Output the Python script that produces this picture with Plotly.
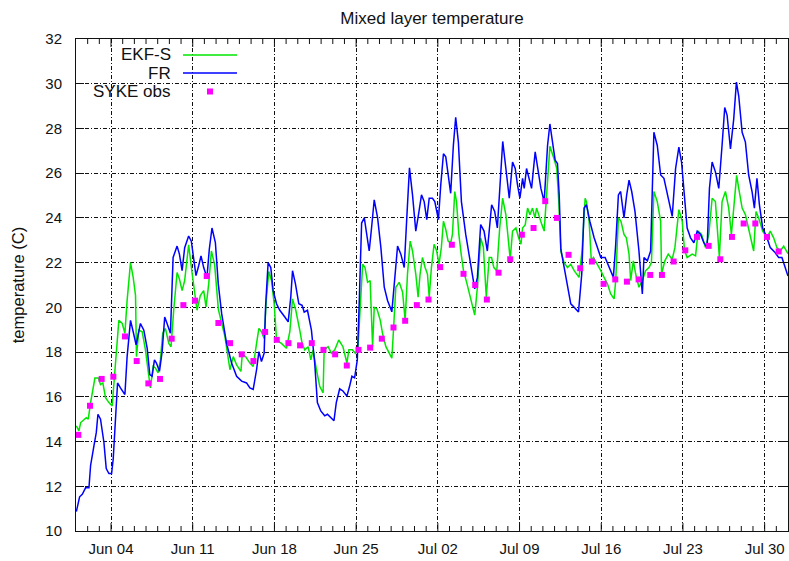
import pandas as pd
import plotly.graph_objects as go

# Time axis: days counted from 1 June (fractional days)
start_date = "2010-06-01"

fr_days = [0.03, 0.31, 0.54, 0.82, 1.11, 1.25, 1.54, 1.74, 1.88, 2.1, 2.39, 2.59, 2.82, 3.05, 3.19, 3.39,
           3.56, 3.81, 4.19, 4.38, 4.67, 4.9, 5.15, 5.52, 5.81, 6.1, 6.32, 6.52, 6.72, 6.89, 7.15, 7.38,
           7.6, 7.8, 8.09, 8.32, 8.66, 8.86, 9.09, 9.31, 9.65, 9.88, 10.08, 10.28, 10.51, 10.71, 10.94,
           11.22, 11.42, 11.65, 11.94, 12.19, 12.48, 12.9, 13.33, 13.76, 14.19, 14.61, 14.9, 15.18, 15.47,
           15.67, 15.89, 16.12, 16.24, 16.46, 16.69, 16.89, 17.18, 17.46, 17.89, 18.18, 18.4, 18.55, 18.8,
           19.09, 19.37, 19.55, 19.83, 20.17, 20.45, 20.68, 20.97, 21.31, 21.54, 21.82, 22.1, 22.3, 22.59,
           22.87, 23.21, 23.44, 23.64, 23.87, 24.1, 24.27, 24.47, 24.7, 24.93, 25.12, 25.32, 25.55, 25.84,
           26.12, 26.41, 26.69, 27.06, 27.32, 27.55, 27.83, 28.12, 28.34, 28.57, 28.83, 29.11, 29.34, 29.6,
           29.83, 30.05, 30.26, 30.54, 30.74, 31.05, 31.25, 31.48, 31.68, 31.88, 32.1, 32.33, 32.53, 32.76,
           33.02, 33.39, 33.82, 34.16, 34.39, 34.67, 34.96, 35.24, 35.61, 35.87, 36.1, 36.32, 36.56, 36.83,
           37.12, 37.4, 37.63, 37.83, 38.03, 38.26, 38.4, 38.6, 38.83, 39.03, 39.34, 39.54, 39.83, 40.11,
           40.4, 40.6, 40.83, 41.05, 41.25, 41.4, 41.54, 41.82, 42.11, 42.39, 42.68, 43.05, 43.33, 43.53,
           43.73, 44.02, 44.39, 44.67, 44.96, 45.33, 45.67, 46.04, 46.24, 46.47, 46.66, 46.95, 47.18, 47.38,
           47.61, 47.89, 48.23, 48.52, 48.66, 48.95, 49.23, 49.51, 49.8, 50.09, 50.37, 50.66, 51.08, 51.37,
           51.65, 51.88, 52.08, 52.36, 52.65, 52.94, 53.22, 53.51, 53.79, 54.07, 54.27, 54.5, 54.78, 55.07,
           55.35, 55.58, 55.78, 56.07, 56.35, 56.58, 56.78, 57.07, 57.35, 57.63, 57.92, 58.12, 58.34, 58.55,
           58.83, 59.2, 59.48, 59.85, 60.2, 60.48, 60.76, 61.0]
fr_temp = [10.87, 11.53, 11.64, 11.93, 11.93, 12.93, 13.82, 14.41, 15.22, 15.0, 13.97, 12.79, 12.57, 12.57,
           13.23, 15.0, 16.62, 16.4, 16.1, 17.8, 19.42, 18.91, 18.32, 19.28, 18.98, 18.17, 16.99, 16.92,
           17.65, 17.51, 17.14, 18.02, 19.57, 19.28, 18.84, 22.23, 22.74, 22.38, 21.64, 22.67, 23.19, 22.96,
           22.23, 21.42, 21.86, 22.3, 21.78, 21.34, 22.6, 23.55, 22.9, 21.05, 19.72, 18.39, 17.51, 16.92,
           16.7, 16.62, 16.4, 16.33, 17.21, 18.02, 17.58, 17.95, 20.02, 22.0, 21.78, 20.75, 20.16, 19.87,
           19.57, 19.35, 20.46, 21.64, 21.05, 20.16, 20.09, 19.79, 19.87, 18.98, 17.51, 15.74, 15.37, 15.15,
           15.22, 15.07, 14.93, 15.74, 16.36, 16.26, 16.03, 16.47, 16.92, 16.85, 17.65, 20.3, 23.77, 24.0,
           23.26, 22.52, 23.55, 24.81, 24.0, 22.67, 20.9, 20.31, 19.8, 21.34, 22.74, 22.38, 21.78, 24.0,
           26.24, 25.03, 23.41, 24.14, 25.03, 24.73, 23.92, 24.88, 24.88, 24.73, 23.92, 25.47, 26.87, 26.73,
           25.91, 25.1, 27.24, 28.5, 27.39, 24.73, 23.26, 21.78, 20.83, 21.34, 23.7, 23.41, 22.52, 24.59,
           24.29, 23.55, 25.62, 27.42, 26.21, 24.88, 26.5, 26.21, 25.47, 24.88, 25.77, 25.32, 26.21, 25.77,
           25.32, 26.95, 26.21, 25.32, 24.73, 27.24, 28.2, 27.39, 26.58, 26.43, 25.0, 22.6, 21.8, 20.9,
           20.16, 20.01, 19.79, 21.49, 24.44, 24.59, 23.85, 23.11, 22.67, 22.23, 22.23, 21.78, 21.34, 22.82,
           25.03, 25.18, 24.0, 25.03, 25.69, 25.18, 24.29, 22.52, 20.6, 22.23, 22.08, 22.52, 27.83, 27.24,
           25.92, 25.77, 25.03, 24.07, 26.21, 27.17, 26.5, 25.32, 23.55, 23.11, 22.89, 23.41, 23.26, 22.89,
           22.67, 25.32, 26.5, 26.06, 25.32, 27.24, 28.94, 28.6, 27.09, 28.42, 30.07, 29.45, 27.83, 27.39,
           25.92, 25.18, 24.44, 25.77, 24.59, 23.55, 23.11, 22.67, 22.48, 22.23, 22.23, 21.78, 21.4]

ekf_days = [0.03, 0.25, 0.4, 0.68, 0.88, 1.05, 1.25, 1.62, 1.91, 2.1, 2.3, 2.53, 2.82, 3.1, 3.3, 3.45,
            3.67, 3.96, 4.19, 4.38, 4.67, 4.9, 5.1, 5.18, 5.38, 5.67, 5.95, 6.24, 6.38, 6.61, 6.8, 7.03,
            7.23, 7.43, 7.66, 7.95, 8.14, 8.37, 8.66, 8.86, 9.09, 9.31, 9.51, 9.65, 9.94, 10.17, 10.37,
            10.65, 10.94, 11.14, 11.37, 11.6, 11.88, 12.2, 12.5, 12.76, 13.19, 13.47, 13.76, 14.13, 14.24,
            14.53, 14.9, 15.18, 15.47, 15.67, 15.89, 16.12, 16.32, 16.52, 16.75, 16.98, 17.18, 17.6, 18.03,
            18.32, 18.55, 18.83, 19.17, 19.37, 19.6, 19.89, 20.12, 20.31, 20.6, 20.88, 21.17, 21.26, 21.6,
            21.88, 22.17, 22.51, 22.87, 23.21, 23.38, 23.67, 23.93, 24.15, 24.35, 24.56, 24.76, 24.98, 25.2,
            25.32, 25.41, 25.55, 25.78, 26.07, 26.26, 26.55, 26.84, 27.06, 27.2, 27.4, 27.69, 27.98, 28.2,
            28.4, 28.63, 28.83, 29.11, 29.31, 29.48, 29.68, 29.91, 30.11, 30.26, 30.45, 30.68, 30.9, 31.1,
            31.3, 31.48, 31.68, 31.88, 32.1, 32.25, 32.45, 32.6, 32.8, 33.0, 33.2, 33.5, 33.8, 34.16, 34.39,
            34.67, 34.9, 35.15, 35.4, 35.6, 35.8, 36.05, 36.3, 36.55, 36.83, 37.06, 37.2, 37.4, 37.69, 37.92,
            38.12, 38.26, 38.49, 38.69, 38.89, 39.11, 39.32, 39.46, 39.69, 39.91, 40.11, 40.25, 40.6, 40.98,
            41.19, 41.36, 41.54, 41.82, 42.11, 42.39, 42.68, 43.1, 43.35, 43.62, 43.73, 43.96, 44.15, 44.33,
            44.67, 44.96, 45.24, 45.53, 45.81, 46.1, 46.24, 46.47, 46.69, 46.95, 47.15, 47.38, 47.52, 47.75,
            47.95, 48.23, 48.52, 48.8, 49.09, 49.3, 49.51, 49.8, 50.09, 50.17, 50.45, 50.74, 51.08, 51.31,
            51.65, 51.94, 52.13, 52.36, 52.79, 53.08, 53.3, 53.59, 53.93, 54.22, 54.5, 54.78, 55.12, 55.35,
            55.64, 55.92, 56.15, 56.35, 56.6, 56.78, 57.07, 57.35, 57.78, 58.06, 58.26, 58.49, 58.83, 59.2,
            59.48, 59.77, 60.05, 60.34, 60.63, 61.0]
ekf_temp = [14.7, 14.48, 14.85, 15.0, 15.07, 15.0, 15.74, 16.84, 16.84, 16.55, 16.62, 15.96, 15.74, 15.59,
            16.92, 18.17, 19.42, 19.28, 18.84, 20.31, 22.0, 21.34, 20.53, 17.8, 18.98, 18.91, 18.1, 16.92,
            16.4, 17.36, 17.29, 17.07, 17.65, 18.84, 19.06, 18.39, 18.24, 19.87, 21.56, 21.27, 20.75, 21.2,
            22.23, 22.8, 21.56, 20.68, 19.87, 20.53, 20.75, 20.02, 21.05, 22.52, 21.9, 19.9, 19.3, 18.69,
            17.21, 17.8, 17.43, 17.14, 17.88, 17.8, 17.51, 17.36, 18.39, 19.06, 18.91, 18.61, 20.46, 21.6,
            21.2, 20.16, 18.54, 18.39, 18.17, 18.91, 20.38, 19.87, 18.98, 18.39, 18.1, 18.24, 17.65, 18.1,
            17.21, 16.47, 16.18, 18.1, 18.24, 17.95, 18.1, 18.54, 18.24, 17.51, 18.1, 18.1, 17.95, 18.1,
            20.0, 21.93, 21.78, 21.12, 21.2, 19.57, 18.24, 20.0, 19.94, 19.42, 18.84, 18.24, 17.95, 17.73,
            18.98, 20.9, 21.12, 20.68, 19.42, 21.49, 22.96, 22.52, 21.49, 20.46, 21.49, 22.23, 21.78, 21.49,
            20.46, 21.78, 22.82, 22.52, 21.93, 22.67, 23.85, 23.48, 22.96, 22.88, 23.26, 25.18, 24.73, 23.26,
            22.38, 21.64, 21.05, 20.46, 19.65, 20.9, 23.1, 22.7, 20.46, 22.23, 22.23, 21.78, 21.64, 23.55,
            24.88, 24.14, 22.82, 22.15, 23.41, 23.55, 23.11, 22.82, 23.55, 23.7, 24.44, 24.14, 24.44, 24.0,
            24.44, 24.0, 23.7, 23.41, 24.59, 27.2, 26.6, 26.21, 24.73, 22.5, 22.0, 21.78, 21.93, 21.64, 21.34,
            22.5, 24.88, 24.73, 23.85, 22.08, 22.23, 21.93, 21.64, 21.34, 21.05, 20.6, 20.38, 21.2, 24.0,
            23.85, 23.26, 23.11, 22.38, 21.2, 22.08, 21.49, 20.9, 21.2, 21.64, 21.78, 22.0, 25.18, 24.73,
            23.85, 21.49, 22.08, 22.38, 22.15, 22.67, 24.37, 23.85, 22.55, 22.23, 22.38, 22.3, 23.41, 23.26,
            22.67, 23.26, 24.88, 24.73, 22.23, 24.73, 25.18, 24.44, 23.26, 24.44, 25.9, 25.32, 24.44, 24.15,
            23.11, 22.52, 24.29, 24.0, 23.41, 23.11, 23.41, 23.11, 22.67, 22.52, 22.74, 22.4]

obs_days = [0.2, 1.2, 2.2, 3.2, 4.2, 5.2, 6.2, 7.2, 8.2, 9.2, 10.2, 11.2, 12.2, 13.2, 14.2, 15.2, 16.2,
            17.2, 18.2, 19.2, 20.2, 21.2, 22.2, 23.2, 24.2, 25.2, 26.2, 27.2, 28.2, 29.2, 30.2, 31.2, 32.2,
            33.2, 34.2, 35.2, 36.2, 37.2, 38.2, 39.2, 40.2, 41.2, 42.2, 43.2, 44.2, 45.2, 46.2, 47.2, 48.2,
            49.2, 50.2, 51.2, 52.2, 53.2, 54.2, 55.2, 56.2, 57.2, 58.2, 59.2, 60.2]
obs_temp = [14.3, 15.6, 16.8, 16.9, 18.7, 17.6, 16.6, 16.8, 18.6, 20.1, 20.3, 21.4, 19.3, 18.4, 17.9, 17.6,
            18.9, 18.55, 18.4, 18.3, 18.4, 18.1, 17.9, 17.4, 18.1, 18.2, 18.6, 19.1, 19.4, 20.1, 20.35, 21.8,
            22.8, 21.5, 21.0, 20.35, 21.55, 22.15, 23.25, 23.55, 24.75, 24.0, 22.35, 21.75, 22.05, 21.05,
            21.25, 21.15, 21.25, 21.45, 21.45, 22.05, 22.55, 23.15, 22.75, 22.15, 23.15, 23.75, 23.75, 23.15,
            22.5]

y_ticks = [10, 12, 14, 16, 18, 20, 22, 24, 26, 28, 30, 32]

series_names = ["EKF-S", "FR", "SYKE obs"]
series_colors = ["#00e600", "#0000ff", "#ff00ff"]

base = pd.Timestamp(start_date)
N_DAYS = 61          # 1 June .. 1 August
FIRST_MAJOR = 3      # 4 June, then weekly


def to_time(days):
    return base + pd.to_timedelta(days, unit="D")


def iso(days):
    return to_time(days).strftime("%Y-%m-%d %H:%M:%S")


FONT = "Liberation Sans, Arial, sans-serif"
INK = "#111"
W, H = 789, 561
M = dict(l=76, r=1, t=39, b=30)
PW = W - M["l"] - M["r"]
PH = H - M["t"] - M["b"]
DAY_MS = 86400000

fig = go.Figure()
fig.add_trace(go.Scatter(x=to_time(ekf_days), y=ekf_temp, mode="lines",
                         line=dict(color=series_colors[0], width=1.5), name=series_names[0]))
fig.add_trace(go.Scatter(x=to_time(fr_days), y=fr_temp, mode="lines",
                         line=dict(color=series_colors[1], width=1.5), name=series_names[1]))
fig.add_trace(go.Scatter(x=to_time(obs_days), y=obs_temp, mode="markers",
                         marker=dict(color=series_colors[2], size=6, symbol="square"),
                         name=series_names[2]))

# Daily tick marks on the bottom and top frame (longer at the weekly labels)
for d in range(1, N_DAYS):
    tl = 8 if (d - FIRST_MAJOR) % 7 == 0 else 5
    for anchor, sign in ((0, 1), (1, -1)):
        fig.add_shape(type="line", xref="x", yref="paper", ysizemode="pixel", yanchor=anchor,
                      x0=iso(d), x1=iso(d), y0=0, y1=sign * tl,
                      line=dict(color=INK, width=1), layer="above")

# Key in the upper left: label right-aligned, sample to its right
key_text_px = 173
key_sample = (183, 237)
key_rows_px = [55, 73, 91.5]
for i, (name, color) in enumerate(zip(series_names, series_colors)):
    yp = (H - M["b"] - key_rows_px[i]) / PH
    fig.add_annotation(x=(key_text_px - M["l"]) / PW, y=yp, xref="paper", yref="paper",
                       text=name, showarrow=False, xanchor="right", yanchor="middle",
                       font=dict(family=FONT, size=17, color=INK))
    x0 = (key_sample[0] - M["l"]) / PW
    x1 = (key_sample[1] - M["l"]) / PW
    if i < 2:
        fig.add_shape(type="line", xref="paper", yref="paper", x0=x0, x1=x1, y0=yp, y1=yp,
                      line=dict(color=color, width=1.5))
    else:
        xm = (x0 + x1) / 2
        fig.add_shape(type="rect", xref="paper", yref="paper", xsizemode="pixel",
                      ysizemode="pixel", xanchor=xm, yanchor=yp, x0=-3, x1=3, y0=-3, y1=3,
                      fillcolor=color, line=dict(width=0))

grid = dict(showgrid=True, gridcolor=INK, gridwidth=1, griddash="4px,2px,1px,2px")

fig.update_layout(
    width=W, height=H, margin=M,
    paper_bgcolor="white", plot_bgcolor="white",
    showlegend=False,
    font=dict(family=FONT, size=15, color=INK),
    title=dict(text="Mixed layer temperature", x=0.5, xref="paper", y=1 - 18 / H,
               yref="container", xanchor="center", yanchor="middle",
               font=dict(family=FONT, size=17, color=INK)),
    xaxis=dict(range=[iso(0), iso(N_DAYS)], type="date",
               tick0=iso(FIRST_MAJOR), dtick=7 * DAY_MS, tickformat="%b %d",
               ticks="", showline=True, linecolor=INK, linewidth=1, mirror=True,
               zeroline=False, ticklabelstandoff=4, **grid),
    yaxis=dict(range=[10, 32], tickvals=y_ticks, ticks="inside", ticklen=8,
               tickcolor=INK, showline=True, linecolor=INK, linewidth=1,
               mirror="ticks", zeroline=False, ticklabelstandoff=10,
               title=dict(text="temperature (C)", standoff=16,
                          font=dict(family=FONT, size=16.5, color=INK)),
               **grid),
)

fig.write_html("out.html")
